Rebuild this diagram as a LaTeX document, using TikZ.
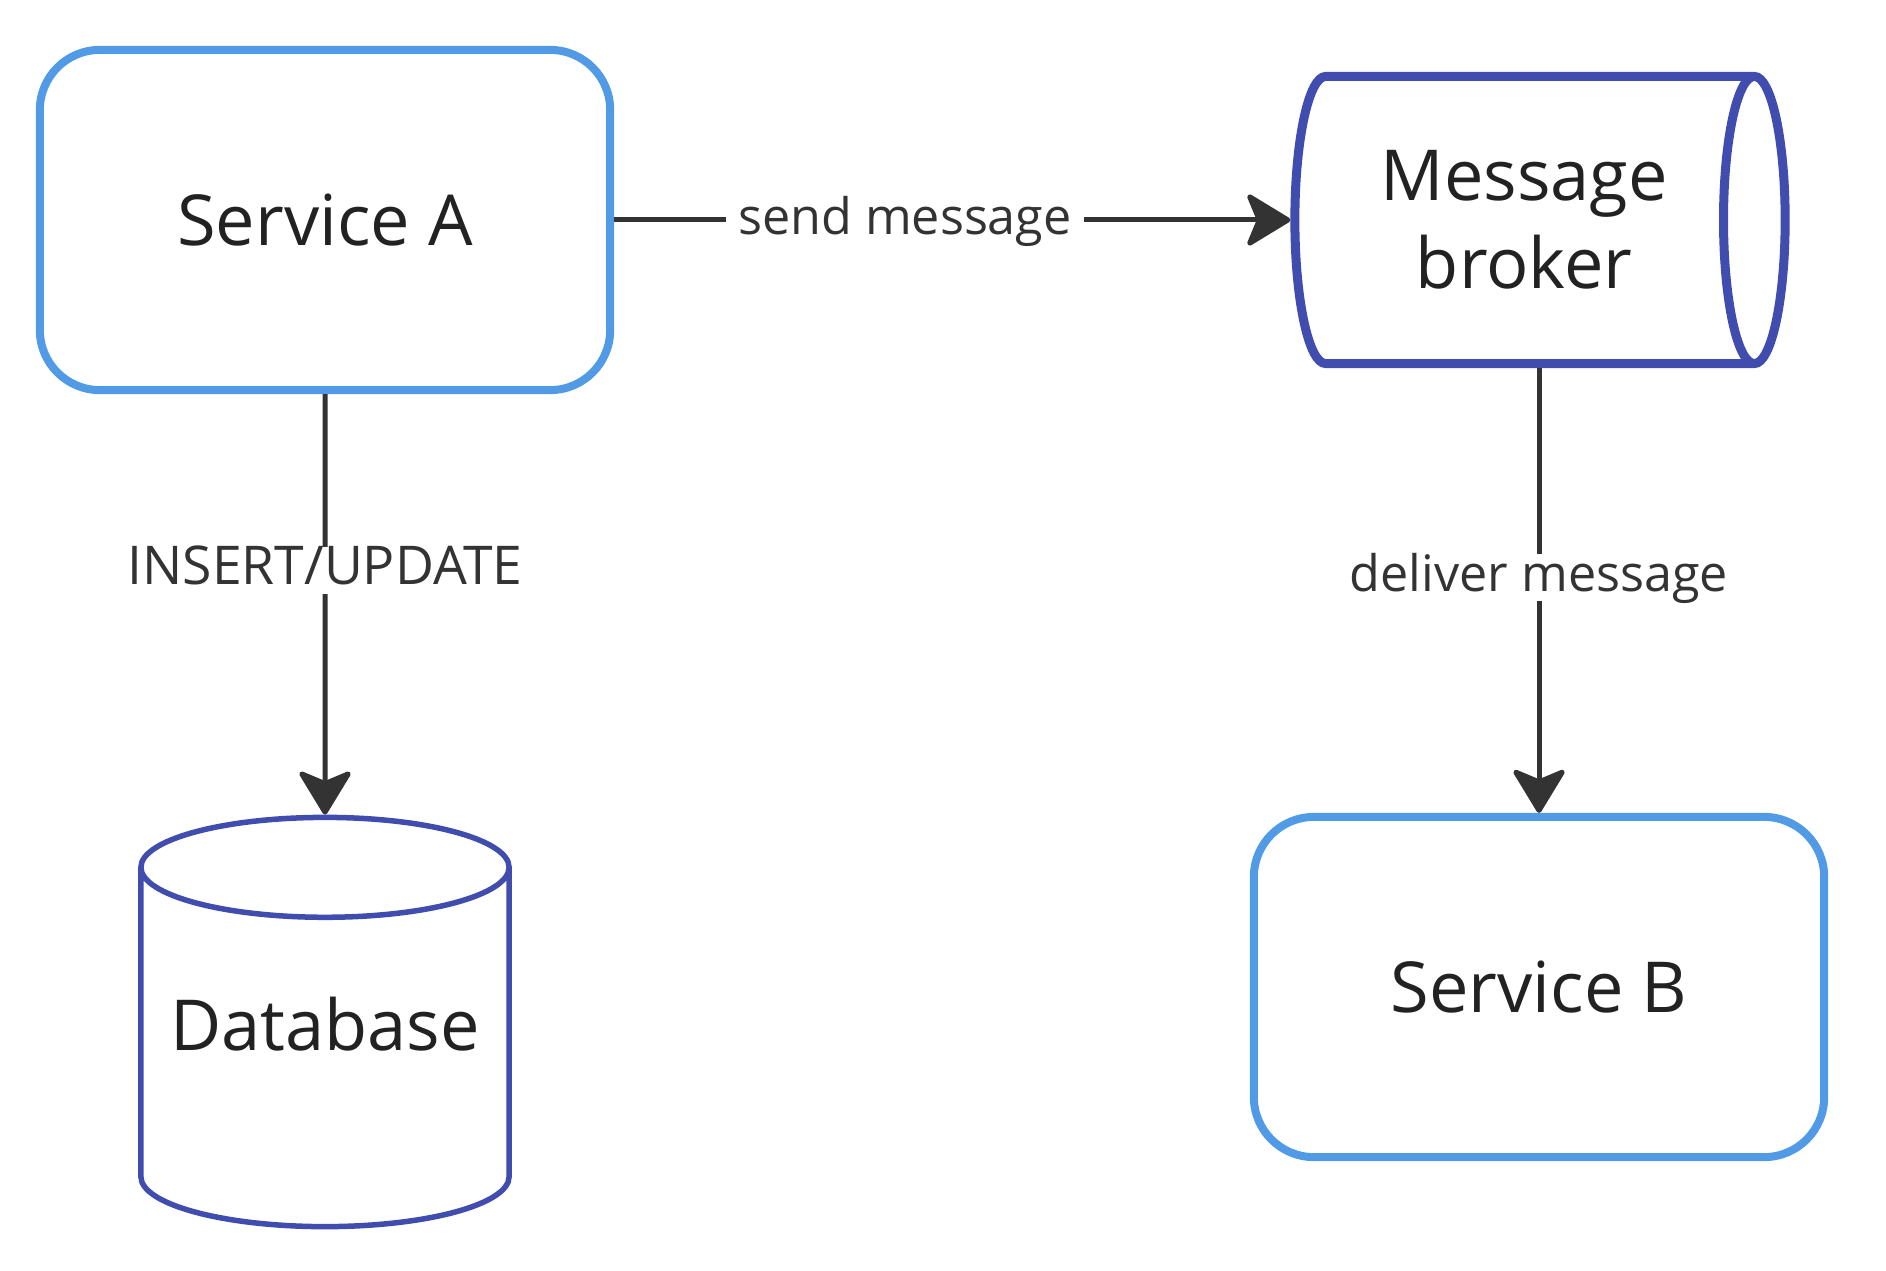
\documentclass[tikz,border=0pt]{standalone}
\usepackage{fontspec}
\setmainfont{Open Sans}
\usepackage{tikz}
\usetikzlibrary{arrows.meta,positioning,shapes.geometric}
\definecolor{svcblue}{RGB}{80,154,230}
\definecolor{storeblue}{RGB}{64,76,174}
\definecolor{linkgray}{RGB}{51,51,51}
\definecolor{textgray}{RGB}{34,34,34}
\tikzset{
  service/.style={rectangle, rounded corners=0.6cm, draw=svcblue, line width=0.08cm,
                  fill=white, minimum width=5.7cm, minimum height=3.4cm,
                  align=center, text=textgray, font=\fontsize{20}{25}\selectfont},
  queue/.style={cylinder, aspect=0.38, draw=storeblue, line width=0.09cm,
                minimum width=2.87cm, minimum height=4.9cm, align=center,
                text=textgray, font=\fontsize{20}{25}\selectfont},
  store/.style={cylinder, shape border rotate=90, aspect=0.3, draw=storeblue,
                line width=0.055cm, minimum width=3.68cm, minimum height=4.09cm,
                align=center, text=textgray, font=\fontsize{20}{25}\selectfont},
  arrow/.style={-{Stealth[length=0.48cm, width=0.58cm, inset=0.12cm, round]},
                line width=0.05cm, linkgray},
  lbl/.style={fill=white, inner xsep=3.5pt, inner ysep=0pt, text height=1.07em,
              text depth=0.27em, text=linkgray, font=\fontsize{14.3}{17}\selectfont},
}

\begin{document}
\begin{tikzpicture}[x=0.01cm, y=-0.01cm]
  \useasboundingbox (0,0) rectangle (1886,1270);
  \node[service] (svca) at (325,220) {Service A};
  \node[queue, anchor=shape center] (broker) at (1540,220) {\hspace*{0.16cm}Message\\\hspace*{0.16cm}broker};
  \node[store, anchor=shape center] (db) at (325,1022) {\raisebox{0.66cm}{Database}};
  \node[service] (svcb) at (1539,987) {Service B};
  \draw[arrow] (svca.east) -- node[lbl, pos=0.43]{send message} (broker.west);
  \draw[arrow] (svca.south) -- node[lbl, pos=0.42, font=\fontsize{15.2}{18}\selectfont]{INSERT/UPDATE} (db.north);
  \draw[arrow] (broker.south -| svcb.north) -- node[lbl, pos=0.47]{deliver message} (svcb.north);
\end{tikzpicture}
\end{document}
